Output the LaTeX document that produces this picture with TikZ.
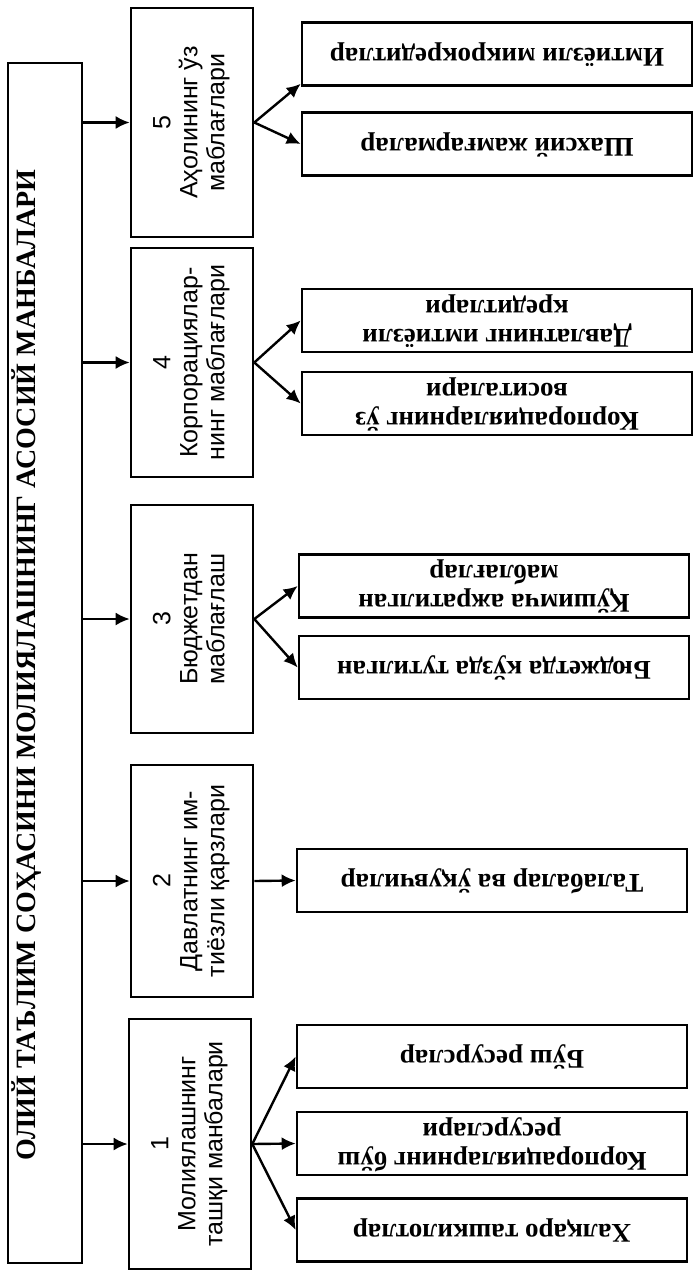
\documentclass[tikz,border=0pt]{standalone}
\usepackage{fontspec}
\setmainfont{Liberation Serif}
\setsansfont{Liberation Sans}
\usepackage{graphicx}
\usetikzlibrary{arrows.meta, positioning, calc}
\tikzstyle{mainbox} = [rectangle, draw=black, line width=2.6pt, minimum width=74pt, minimum height=1200pt, inner sep=0pt]
\tikzstyle{titletext} = [inner sep=0pt, font=\bfseries\fontsize{28}{30}\selectfont]
\tikzstyle{source} = [rectangle, draw=black, line width=2.6pt, minimum width=122pt, inner sep=0pt, font=\sffamily\fontsize{25}{27}\selectfont]
\tikzstyle{item} = [rectangle, draw=black, line width=2.6pt, minimum width=390pt, minimum height=63pt, inner sep=0pt, font=\bfseries\fontsize{27}{29}\selectfont]
\tikzstyle{arrow} = [line width=2.4pt, -{Latex[length=14pt,width=13pt]}]
\newcommand{\upcol}[1]{\rotatebox{90}{\begin{tabular}{@{}c@{}}#1\end{tabular}}}
\newcommand{\flipped}[1]{\rotatebox{180}{\begin{tabular}{@{}c@{}}#1\end{tabular}}}
\begin{document}
\begin{tikzpicture}[x=1pt, y=-1pt]
\useasboundingbox (0,0) rectangle (697,1273);
\node (main) [mainbox] at (45,663) {};
\node (title) [titletext] at (27,665) {\rotatebox{90}{ОЛИЙ ТАЪЛИМ СОҲАСИНИ МОЛИЯЛАШНИНГ АСОСИЙ МАНБАЛАРИ}};
\node (m5) [source, minimum height=229pt] at (192,122.5) {\upcol{5\\Аҳолининг ўз\\маблағлари}};
\node (m4) [source, minimum height=229pt] at (192,362.5) {\upcol{4\\Корпорациялар-\\нинг маблағлари}};
\node (m3) [source, minimum height=228pt] at (192,619) {\upcol{3\\Бюджетдан\\маблағлаш}};
\node (m2) [source, minimum height=232pt] at (192,881) {\upcol{2\\Давлатнинг им-\\тиёзли қарзлари}};
\node (m1) [source, minimum height=250pt] at (190,1144) {\upcol{1\\Молиялашнинг\\ташқи манбалари}};
\node (r5a) [item] at (497,54) {\flipped{Имтиёзли микрокредитлар}};
\node (r5b) [item] at (497,144) {\flipped{Шахсий жамғармалар}};
\node (r4a) [item] at (497,320.5) {\flipped{Давлатнинг имтиёзли\\кредитлари}};
\node (r4b) [item] at (497,403.5) {\flipped{Корпорацияларнинг ўз\\воситалари}};
\node (r3a) [item] at (494,586) {\flipped{Қўшимча ажратилган\\маблағлар}};
\node (r3b) [item] at (494,667.5) {\flipped{Бюджетда кўзда тутилган}};
\node (r2) [item] at (492,880.5) {\flipped{Талабалар ва ўқувчилар}};
\node (r1a) [item] at (492,1056.5) {\flipped{Бўш ресурслар}};
\node (r1b) [item] at (492,1143.5) {\flipped{Корпорацияларнинг бўш\\ресурслари}};
\node (r1c) [item] at (492,1230) {\flipped{Халқаро ташкилотлар}};
\foreach \m in {m1,m2,m3,m4,m5}
  \draw [arrow] (main.east |- \m.west) -- (\m.west);
\draw [arrow] (m5.east) -- ([yshift=3pt]r5a.south west);
\draw [arrow] (m5.east) -- (r5b.west);
\draw [arrow] (m4.east) -- (r4a.west);
\draw [arrow] (m4.east) -- (r4b.west);
\draw [arrow] (m3.east) -- (r3a.west);
\draw [arrow] (m3.east) -- (r3b.west);
\draw [arrow] (m2.east) -- (r2.west);
\draw [arrow] (m1.east) -- (r1a.west);
\draw [arrow] (m1.east) -- (r1b.west);
\draw [arrow] (m1.east) -- (r1c.west);
\end{tikzpicture}
\end{document}
